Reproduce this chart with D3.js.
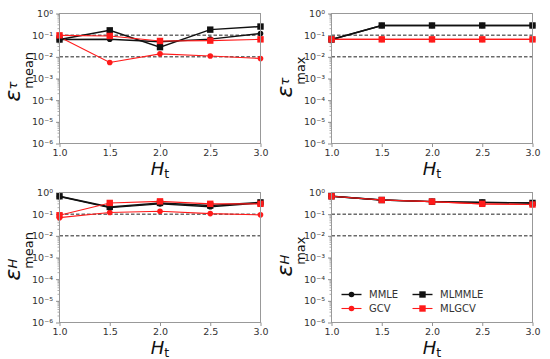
<!DOCTYPE html>
<html>
<head>
<meta charset="utf-8">
<script src="https://cdn.jsdelivr.net/npm/d3@7"></script>
<style>
  body { margin: 0; background: #fff; }
  text { font-family: "DejaVu Sans", sans-serif; }
</style>
</head>
<body>
<svg id="chart" width="550" height="359"></svg>
<script>
// data
const H_t = [1.0, 1.5, 2.0, 2.5, 3.0];
const x_ticks = [1.0, 1.5, 2.0, 2.5, 3.0];
const y_ticks = [1e-6, 1e-5, 1e-4, 1e-3, 1e-2, 1e-1, 1];
const ref_lines = [0.1, 0.01];
const series_names = ['MMLE', 'GCV', 'MLMMLE', 'MLGCV'];

const tau_mean_mmle   = [0.063, 0.065, 0.050, 0.066, 0.120];
const tau_mean_gcv    = [0.082, 0.0055, 0.0137, 0.011, 0.0084];
const tau_mean_mlmmle = [0.063, 0.167, 0.028, 0.180, 0.250];
const tau_mean_mlgcv  = [0.098, 0.092, 0.054, 0.056, 0.064];

const tau_max_mmle   = [0.063, 0.28, 0.28, 0.28, 0.28];
const tau_max_gcv    = [0.064, 0.064, 0.064, 0.064, 0.064];
const tau_max_mlmmle = [0.063, 0.28, 0.28, 0.28, 0.28];
const tau_max_mlgcv  = [0.064, 0.064, 0.064, 0.064, 0.064];

const h_mean_mmle   = [0.65, 0.20, 0.30, 0.22, 0.33];
const h_mean_gcv    = [0.069, 0.12, 0.137, 0.106, 0.093];
const h_mean_mlmmle = [0.67, 0.216, 0.33, 0.25, 0.35];
const h_mean_mlgcv  = [0.089, 0.33, 0.39, 0.30, 0.30];

const h_max_mmle   = [0.67, 0.45, 0.38, 0.35, 0.33];
const h_max_gcv    = [0.67, 0.45, 0.38, 0.30, 0.28];
const h_max_mlmmle = [0.67, 0.45, 0.38, 0.35, 0.33];
const h_max_mlgcv  = [0.67, 0.45, 0.38, 0.30, 0.28];

const styles = {
  MMLE:   {color: '#111', marker: 'circle', width: 1.4},
  GCV:    {color: '#ff1a1a', marker: 'circle', width: 1.1},
  MLMMLE: {color: '#111', marker: 'square', width: 1.4},
  MLGCV:  {color: '#ff1a1a', marker: 'square', width: 1.1}
};

const panels = [
  {x0: 59.5, y0: 13.5, sup: 'τ', sub: 'mean', data: [tau_mean_mmle, tau_mean_gcv, tau_mean_mlmmle, tau_mean_mlgcv]},
  {x0: 331.5, y0: 13.5, sup: 'τ', sub: 'max', data: [tau_max_mmle, tau_max_gcv, tau_max_mlmmle, tau_max_mlgcv]},
  {x0: 59.5, y0: 192.5, sup: 'H', sub: 'mean', data: [h_mean_mmle, h_mean_gcv, h_mean_mlmmle, h_mean_mlgcv]},
  {x0: 331.5, y0: 192.5, sup: 'H', sub: 'max', data: [h_max_mmle, h_max_gcv, h_max_mlmmle, h_max_mlgcv], legend: true}
];

let pw = 201;
let ph = 130;
const svg = d3.select('#chart');
const sup_digits = {'-': '⁻', '0': '⁰', '1': '¹', '2': '²', '3': '³', '4': '⁴', '5': '⁵', '6': '⁶'};

function draw_marker(g, kind, cx, cy, color) {
  if (kind == 'circle') {
    g.append('circle').attr('cx', cx).attr('cy', cy).attr('r', 2.8).attr('fill', color);
  } else {
    g.append('rect').attr('x', cx - 3.2).attr('y', cy - 3.2)
      .attr('width', 6.4).attr('height', 6.4).attr('fill', color);
  }
}

panels.forEach(function(p) {
  const x = d3.scaleLinear().domain([1, 3]).range([p.x0, p.x0 + pw]);
  const y = d3.scaleLog().domain([1e-6, 1]).range([p.y0 + ph, p.y0]);
  const g = svg.append('g');

  // minor ticks on the log axis
  const minors = [];
  for (let e = -6; e < 0; e++) for (let m = 2; m < 10; m++) minors.push(m * Math.pow(10, e));
  g.selectAll('.minor').data(minors).enter().append('line')
    .attr('x1', p.x0 - 2).attr('x2', p.x0)
    .attr('y1', d => y(d)).attr('y2', d => y(d))
    .attr('stroke', '#777').attr('stroke-width', 0.6);

  const yAxis = d3.axisLeft(y).tickValues(y_ticks).tickSize(3.5).tickPadding(3)
    .tickFormat(d => '10' + String(Math.round(Math.log10(d))).split('').map(c => sup_digits[c]).join(''));
  const ya = g.append('g').attr('transform', `translate(${p.x0},0)`).call(yAxis);
  const xAxis = d3.axisBottom(x).tickValues(x_ticks).tickSize(3.5).tickPadding(2.5)
    .tickFormat(d3.format('.1f'));
  const xa = g.append('g').attr('transform', `translate(0,${p.y0 + ph})`).call(xAxis);
  [ya, xa].forEach(a => {
    a.select('.domain').remove();
    a.selectAll('line').attr('stroke', '#777').attr('stroke-width', 0.8);
    a.selectAll('text').attr('fill', '#333').style('font-size', '9.5px');
  });

  // reference dashed lines
  g.selectAll('.ref').data(ref_lines).enter().append('line')
    .attr('x1', p.x0).attr('x2', p.x0 + pw)
    .attr('y1', d => y(d)).attr('y2', d => y(d))
    .attr('stroke', '#222').attr('stroke-width', 1).attr('stroke-dasharray', '3.5,2');

  const line = d3.line().x((d, i) => x(H_t[i])).y(d => y(d));
  series_names.forEach(function(name, k) {
    const st = styles[name];
    g.append('path').datum(p.data[k]).attr('d', line)
      .attr('fill', 'none').attr('stroke', st.color).attr('stroke-width', st.width);
    p.data[k].forEach((v, i) => draw_marker(g, st.marker, x(H_t[i]), y(v), st.color));
  });

  // frame
  g.append('rect').attr('x', p.x0).attr('y', p.y0).attr('width', pw).attr('height', ph)
    .attr('fill', 'none').attr('stroke', '#999').attr('stroke-width', 1);

  // x label H_t
  const xl = g.append('text').attr('x', p.x0 + pw / 2).attr('y', p.y0 + ph + 31)
    .attr('text-anchor', 'middle').attr('fill', '#111').style('font-size', '18px');
  xl.append('tspan').style('font-style', 'italic').text('H');
  xl.append('tspan').attr('dy', 3).style('font-size', '12.5px').text('t');

  // y label ε^sup_sub, stacked scripts, roughly centred on the panel
  const start = p.y0 + ph / 2 + (p.sub == 'mean' ? 23 : 19);
  const supw = p.sup == 'τ' ? 7 : 10;
  const yl = g.append('text').attr('transform', `translate(${p.x0 - 40},${start}) rotate(-90)`)
    .attr('fill', '#111').style('font-size', '22px');
  yl.append('tspan').style('font-style', 'italic').text('ε');
  yl.append('tspan').attr('dy', -3).style('font-size', '13px').style('font-style', 'italic').text(p.sup);
  yl.append('tspan').attr('dx', -supw).attr('dy', 16).style('font-size', '13px').text(p.sub);

  if (p.legend) {
    const rows = [[0, 0], [0, 1], [1, 0], [1, 1]];
    series_names.forEach(function(name, k) {
      const st = styles[name];
      const lx = p.x0 + 10 + rows[k][0] * 71;
      const ly = 294.5 + rows[k][1] * 14;
      g.append('line').attr('x1', lx).attr('x2', lx + 20).attr('y1', ly).attr('y2', ly)
        .attr('stroke', st.color).attr('stroke-width', st.width);
      draw_marker(g, st.marker, lx + 10, ly, st.color);
      g.append('text').attr('x', lx + 27.5).attr('y', ly + 3.5)
        .attr('fill', '#333').style('font-size', '10px').text(name);
    });
  }
});
</script>
</body>
</html>
